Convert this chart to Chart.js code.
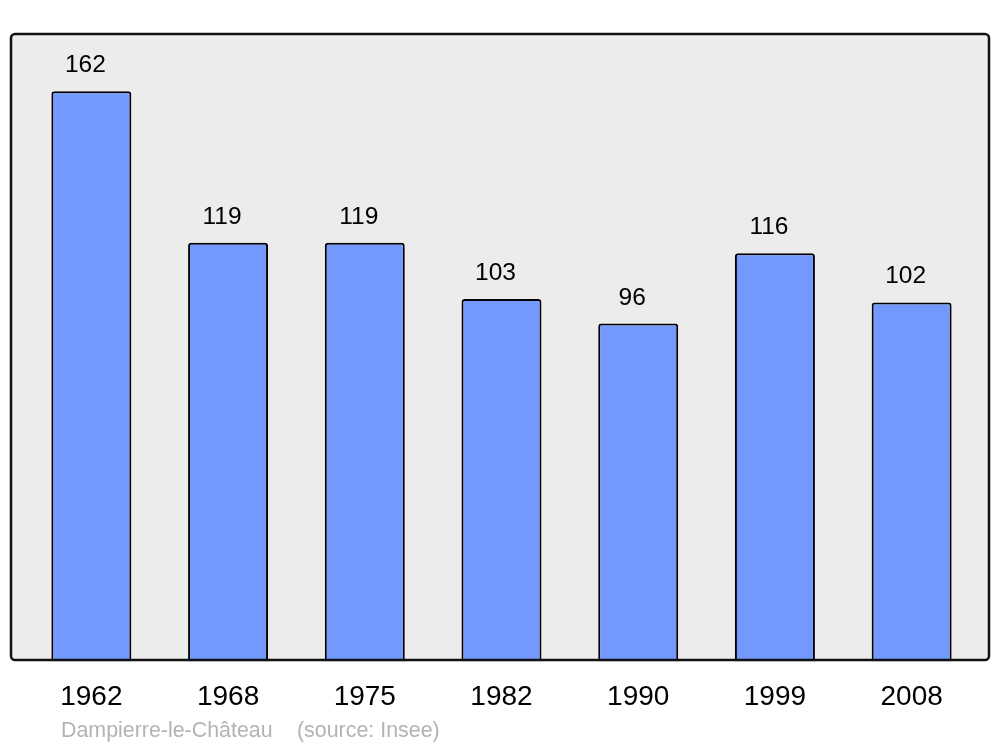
<!DOCTYPE html>
<html>
<head>
<meta charset="utf-8">
<script src="https://cdn.jsdelivr.net/npm/chart.js@4"></script>
<style>
  html, body { margin: 0; padding: 0; background: #ffffff; }
  #wrap { position: relative; width: 1000px; height: 747px; }
</style>
</head>
<body>
<div id="wrap"><canvas id="chart" width="1000" height="747"></canvas></div>
<script>
const years = ['1962', '1968', '1975', '1982', '1990', '1999', '2008'];
const population = [162, 119, 119, 103, 96, 116, 102];
const townName = 'Dampierre-le-Château';
const sourceNote = '(source: Insee)';

// grey panel with the dark rounded border behind the bars
const panelPlugin = {
  id: 'panel',
  beforeDraw: (chart) => {
    const ctx = chart.ctx;
    ctx.save();
    ctx.beginPath();
    ctx.roundRect(11, 34, 978, 626, 4);
    ctx.fillStyle = '#ececec';
    ctx.fill();
    ctx.restore();
  },
  afterDatasetsDraw: (chart) => {
    const ctx = chart.ctx;
    ctx.save();
    ctx.beginPath();
    ctx.roundRect(11, 34, 978, 626, 4);
    ctx.lineWidth = 2.5;
    ctx.strokeStyle = '#111111';
    ctx.stroke();
    ctx.restore();
  }
};

// numbers above each bar + footer text
const labelPlugin = {
  id: 'valueLabels',
  afterDraw: (chart) => {
    const ctx = chart.ctx;
    const meta = chart.getDatasetMeta(0);
    ctx.save();
    ctx.font = '24.5px "Liberation Sans", Arial, sans-serif';
    ctx.fillStyle = '#000000';
    ctx.textAlign = 'center';
    ctx.textBaseline = 'alphabetic';
    meta.data.forEach((bar, i) => {
      ctx.fillText(String(population[i]), bar.x - 6, bar.y - 19);
    });
    ctx.font = '21.4px "Liberation Sans", Arial, sans-serif';
    ctx.fillStyle = '#b3b3b3';
    ctx.textAlign = 'left';
    ctx.fillText(townName, 61, 737);
    ctx.fillText(sourceNote, 297, 737);
    ctx.restore();
  }
};

new Chart(document.getElementById('chart'), {
  type: 'bar',
  plugins: [panelPlugin, labelPlugin],
  data: {
    labels: years,
    datasets: [{
      data: population,
      backgroundColor: '#7399ff',
      borderColor: '#000000',
      borderWidth: 2,
      borderRadius: { topLeft: 3, topRight: 3 },
      borderSkipped: 'bottom',
      categoryPercentage: 1,
      barPercentage: 0.585
    }]
  },
  options: {
    responsive: false,
    animation: false,
    layout: {
      padding: { left: 23, right: 20, top: 34, bottom: 14 }
    },
    plugins: {
      legend: { display: false },
      tooltip: { enabled: false }
    },
    scales: {
      x: {
        grid: { display: false, drawTicks: false },
        border: { display: false },
        ticks: {
          color: '#000000',
          padding: 19,
          font: { family: '"Liberation Sans", Arial, sans-serif', size: 28 }
        }
      },
      y: {
        display: false,
        min: 0,
        max: 178.3
      }
    }
  }
});
</script>
</body>
</html>
